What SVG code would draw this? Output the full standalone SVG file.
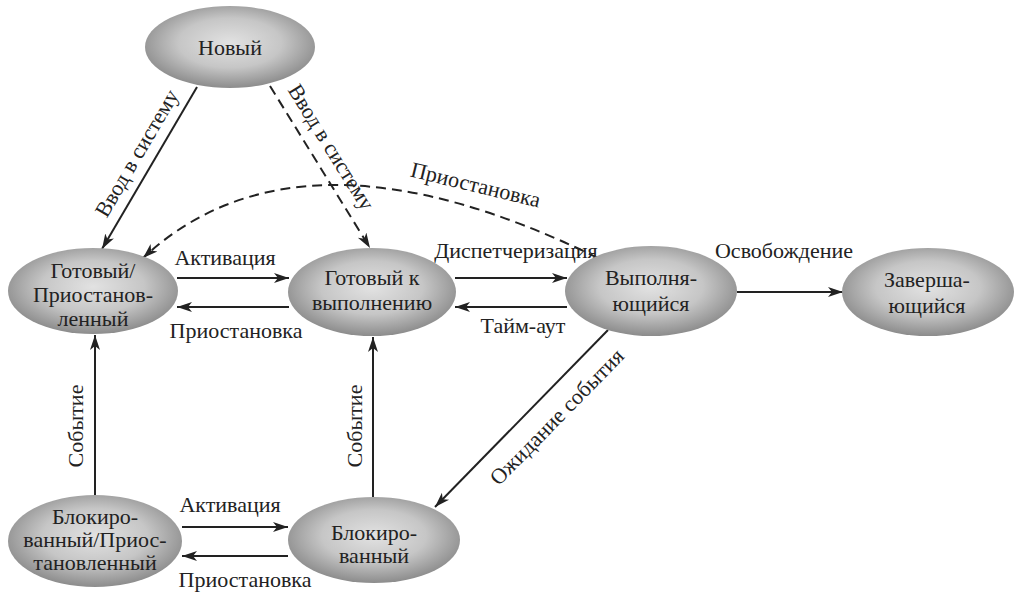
<svg xmlns="http://www.w3.org/2000/svg" width="1018" height="593" viewBox="0 0 1018 593">
<defs>
<radialGradient id="g" cx="50%" cy="45%" r="55%">
<stop offset="0%" stop-color="#e2e2e2"/>
<stop offset="55%" stop-color="#c6c6c6"/>
<stop offset="100%" stop-color="#8c8c8c"/>
</radialGradient>
<marker id="ah" markerUnits="userSpaceOnUse" markerWidth="16" markerHeight="12" refX="15" refY="5" orient="auto" viewBox="0 0 16 10">
<path d="M0,0 L15,5 L0,10 L4,5 z" fill="#222"/>
</marker>
<style>
.n{fill:url(#g);stroke:none}
.t{font-family:"Liberation Serif","Times New Roman",serif;font-size:22px;fill:#222;text-anchor:middle}
.c{fill:none;stroke:#222;stroke-width:2;marker-end:url(#ah)}
.d{stroke-dasharray:10 6}
</style>
</defs>
<rect width="1018" height="593" fill="#fff"/>
<g id="connectors">
<path class="c" d="M197 87 L102 249"/>
<path class="c d" d="M270 86 L370 248"/>
<path class="c d" d="M598 258 Q300 112 143 258"/>
<path class="c" d="M177 278 L289 278"/>
<path class="c" d="M289 307 L177 307"/>
<path class="c" d="M455 278 L567 278"/>
<path class="c" d="M567 307 L455 307"/>
<path class="c" d="M737 292 L843 292"/>
<path class="c" d="M95 495 L95 335"/>
<path class="c" d="M373 497 L373 337"/>
<path class="c" d="M608 330 L435 507"/>
<path class="c" d="M182 527 L288 527"/>
<path class="c" d="M288 556 L182 556"/>
<text class="t" transform="translate(143,157) rotate(-59.6)">Ввод в систему</text>
<text class="t" transform="translate(325,151) rotate(58.2)">Ввод в систему</text>
<text class="t" transform="translate(474,192) rotate(13.6)">Приостановка</text>
<text class="t" transform="translate(562,422) rotate(-45.6)">Ожидание события</text>
<text class="t" transform="translate(83,426) rotate(-90)">Событие</text>
<text class="t" transform="translate(362,426) rotate(-90)">Событие</text>
<text class="t" x="225" y="265">Активация</text>
<text class="t" x="236" y="338">Приостановка</text>
<text class="t" x="516" y="258">Диспетчеризация</text>
<text class="t" x="523" y="333">Тайм-аут</text>
<text class="t" x="784" y="258">Освобождение</text>
<text class="t" x="230" y="512">Активация</text>
<text class="t" x="245" y="587">Приостановка</text>
</g>
<g id="new">
<ellipse class="n" cx="230" cy="47" rx="85" ry="41"/>
<text class="t" x="230" y="55">Новый</text>
</g>
<g id="ready-suspended">
<ellipse class="n" cx="93" cy="291" rx="85" ry="43"/>
<text class="t" x="93" y="278">Готовый/</text>
<text class="t" x="93" y="302">Приостанов-</text>
<text class="t" x="93" y="326">ленный</text>
</g>
<g id="ready">
<ellipse class="n" cx="372" cy="292" rx="84" ry="44"/>
<text class="t" x="372" y="285">Готовый к</text>
<text class="t" x="372" y="310">выполнению</text>
</g>
<g id="running">
<ellipse class="n" cx="651" cy="291" rx="86" ry="45"/>
<text class="t" x="651" y="285">Выполня-</text>
<text class="t" x="651" y="311">ющийся</text>
</g>
<g id="exit">
<ellipse class="n" cx="928" cy="292" rx="86" ry="44"/>
<text class="t" x="927" y="287">Заверша-</text>
<text class="t" x="927" y="313">ющийся</text>
</g>
<g id="blocked-suspended">
<ellipse class="n" cx="95" cy="541" rx="87" ry="46"/>
<text class="t" x="95" y="524">Блокиро-</text>
<text class="t" x="95" y="547">ванный/Приос-</text>
<text class="t" x="95" y="570">тановленный</text>
</g>
<g id="blocked">
<ellipse class="n" cx="374" cy="540" rx="86" ry="43"/>
<text class="t" x="374" y="540">Блокиро-</text>
<text class="t" x="374" y="563">ванный</text>
</g>
</svg>
